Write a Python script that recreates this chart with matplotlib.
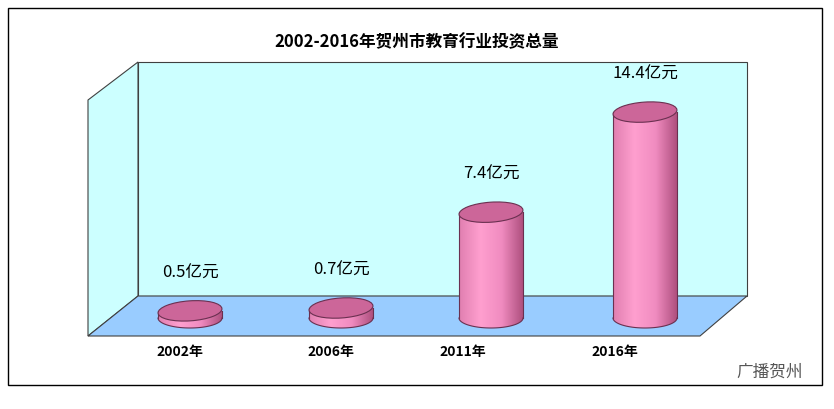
import matplotlib
matplotlib.use("Agg")
import matplotlib.pyplot as plt
from matplotlib.patches import Polygon, Ellipse, Rectangle
import numpy as np

FONTS = ['Noto Sans CJK SC', 'Noto Sans CJK JP', 'Noto Sans CJK TC', 'DejaVu Sans']
plt.rcParams['font.family'] = FONTS
title = "2002-2016年贺州市教育行业投资总量"
categories = ["2002年", "2006年", "2011年", "2016年"]
values = [0.5, 0.7, 7.4, 14.4]
labels = ["0.5亿元", "0.7亿元", "7.4亿元", "14.4亿元"]

W, H = 834, 409
fig = plt.figure(figsize=(W/100, H/100), dpi=100)
ax = fig.add_axes([0, 0, 1, 1])
ax.set_xlim(0, W); ax.set_ylim(H, 0); ax.axis('off')

ax.add_patch(Rectangle((8, 8), 814, 377, fill=False, ec='black', lw=1))
ax.text(417, 42, title, ha='center', va='center', fontsize=12, fontweight='bold', family=FONTS)

ax.add_patch(Polygon([(138, 62), (747, 62), (747, 296), (138, 296)], fc='#ccffff', ec='#404040', lw=0.8))
ax.add_patch(Polygon([(88, 100), (138, 62), (138, 296), (88, 336)], fc='#ccffff', ec='#404040', lw=0.8))
ax.add_patch(Polygon([(88, 336), (700, 336), (747, 296), (138, 296)], fc='#99ccff', ec='#404040', lw=0.8))

base = 318
scale = 14.3
bw = 64
eh = 20
centers = [190, 341, 491, 645]
cat_x = [180, 331, 463, 615]
cmap = matplotlib.colors.LinearSegmentedColormap.from_list('c', ['#e07fb0', '#ff9fcf', '#f08cc0', '#b0507f'])
for cx, v, lab, cat, lx in zip(centers, values, labels, categories, cat_x):
    top = base - v * scale
    x0 = cx - bw/2
    ts = np.linspace(np.pi, 0, 60)
    grad = np.linspace(0, 1, 200).reshape(1, -1)
    im = ax.imshow(grad, cmap=cmap, extent=(x0, x0+bw, base + eh/2 + 1, top), aspect='auto', zorder=2)
    body = Polygon([(x0, top), (x0, base)] +
                   [(cx + bw/2*np.cos(t), base + eh/2*np.sin(t)) for t in ts] +
                   [(x0+bw, top)], transform=ax.transData, closed=True, fc='none', ec='none')
    ax.add_patch(body)
    im.set_clip_path(body)
    ax.plot(cx + bw/2*np.cos(ts), base + eh/2*np.sin(ts), color='#6a3050', lw=0.8, zorder=3)
    ax.plot([x0, x0], [top, base], color='#6a3050', lw=0.8, zorder=3)
    ax.plot([x0+bw, x0+bw], [top, base], color='#6a3050', lw=0.8, zorder=3)
    ax.add_patch(Ellipse((cx, top), bw, eh, angle=-4, fc='#cc6699', ec='#6a3050', lw=0.8, zorder=4))
    ax.text(cx, top - 38, lab, ha='center', va='center', fontsize=12, zorder=5)
    ax.text(lx, 352, cat, ha='center', va='center', fontsize=10, fontweight='bold')

ax.text(770, 372, "广播贺州", ha='center', va='center', fontsize=12, color='#555555')
fig.savefig("out.png", dpi=100)
